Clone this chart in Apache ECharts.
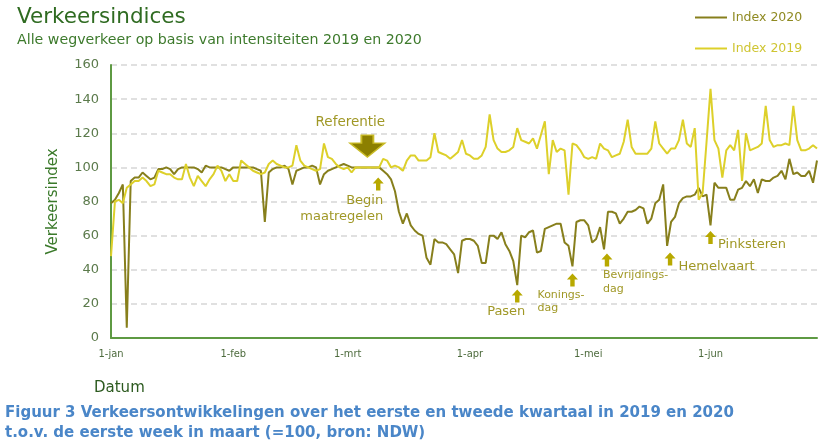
<!DOCTYPE html>
<html><head><meta charset="utf-8">
<script src="https://cdn.jsdelivr.net/npm/echarts@6/dist/echarts.min.js"></script>
<style>html,body{margin:0;padding:0;background:#fff}#c{width:830px;height:447px}</style>
</head><body><div id="c"></div>
<script>
// Daily index values, day 0 = 1 januari
const index2020 = [
 79, 81, 85, 90, 6, 92, 94, 94, 97, 95,
 93, 94, 99, 99, 100, 99, 96, 99, 100, 100,
 100, 100, 99, 97, 101, 100, 100, 100, 100, 99,
 98, 100, 100, 100, 100, 100, 100, 99, 98, 68,
 97, 99, 100, 100, 101, 99, 90, 98, 99, 100,
 100, 101, 100, 90, 96, 98, 99, 100, 101, 102,
 101, 100, 100, 100, 100, 100, 100, 100, 100, 98,
 96, 93, 86, 74, 67, 73, 66, 63, 61, 60,
 47, 43, 58, 56, 56, 55, 52, 49, 38, 57,
 58, 58, 57, 54, 44, 44, 60, 60, 58, 62,
 55, 51, 45, 31, 60, 59, 62, 63, 50, 51,
 64, 65, 66, 67, 67, 56, 54, 42, 68, 69,
 69, 66, 56, 58, 65, 52, 74, 74, 73, 67,
 70, 74, 74, 75, 77, 76, 67, 70, 79, 81,
 90, 54, 68, 71, 79, 82, 83, 83, 84, 88,
 83, 84, 66, 91, 88, 88, 88, 81, 81, 87,
 88, 92, 89, 93, 85, 93, 92, 92, 94, 95,
 98, 93, 105, 96, 97, 95, 95, 98, 91, 104
];
const index2019 = [
 48, 80, 81, 79, 88, 90, 92, 92, 94, 92,
 89, 90, 98, 97, 96, 96, 94, 93, 93, 102,
 94, 89, 95, 92, 89, 93, 96, 101, 98, 92,
 96, 92, 92, 104, 102, 100, 98, 97, 96, 97,
 102, 104, 102, 101, 100, 100, 101, 113, 104, 101,
 100, 99, 98, 99, 114, 106, 105, 102, 100, 99,
 100, 97, 100, 100, 100, 100, 100, 100, 100, 105,
 104, 100, 101, 100, 98, 104, 107, 107, 104, 104,
 104, 106, 120, 109, 108, 107, 105, 107, 109, 116,
 108, 107, 105, 105, 107, 112, 131, 116, 111, 109,
 109, 110, 112, 123, 116, 115, 114, 117, 111, 119,
 127, 96, 116, 109, 111, 110, 84, 114, 113, 110,
 106, 105, 106, 105, 114, 111, 110, 106, 107, 108,
 115, 128, 112, 108, 108, 108, 108, 111, 127, 114,
 111, 108, 111, 111, 116, 128, 114, 112, 123, 81,
 85, 115, 146, 116, 111, 94, 110, 113, 110, 122,
 92, 120, 110, 111, 112, 114, 136, 116, 112, 113,
 113, 114, 113, 136, 116, 110, 110, 111, 113, 111
];
const monthTickIdx = [0, 31, 60, 91, 121, 152];
const monthTickLabels = ['1-jan', '1-feb', '1-mrt', '1-apr', '1-mei', '1-jun'];
const seriesNames = ['Index 2020', 'Index 2019'];
const yMin = 0, yMax = 160, yStep = 20;

// Annotations: label text, day index, value (anchor of the arrow)
const annotationLabels = ['Referentie', 'Begin\nmaatregelen', 'Pasen', 'Konings-\ndag', 'Bevrijdings-\ndag', 'Hemelvaart', 'Pinksteren'];
const annotationDays = [65, 68, 103, 117, 126, 142, 152];
const annotationValues = [112.5, 90.3, 24.6, 34, 45.7, 46.3, 58.9];

const days = index2020.map((_, i) => String(i));

const C2020 = '#877f1c', C2019 = '#ddd02a';
const ANN_TXT = '#a09826', ARROW = '#b8a900';
const UP = 'path://M5.5,0 L11,6 L7.7,6 L7.7,13 L3.3,13 L3.3,6 L0,6 Z';
const DOWN_BIG = 'path://M11.5,0 L23.5,0 L23.5,8 L35,8 L17.5,22 L0,8 L11.5,8 Z';

const annStyles = [
  {symbol: DOWN_BIG, symbolSize: [35, 22], itemStyle: {color: '#8c7f00', borderColor: '#c9bb25', borderWidth: 1.5},
   label: {position: 'top', distance: 5, offset: [-17, 0], fontSize: 13.5}},
  {symbol: UP, symbolSize: [11, 13], symbolOffset: [-1, 0],
   label: {position: 'bottom', align: 'right', distance: 2, offset: [5, 0], fontSize: 13, lineHeight: 16}},
  {symbol: UP, symbolSize: [11, 13],
   label: {position: 'bottom', distance: 3, offset: [-11, 0], fontSize: 13}},
  {symbol: UP, symbolSize: [11, 13],
   label: {position: 'bottom', align: 'left', distance: 2, offset: [-35, 0], fontSize: 11, lineHeight: 13}},
  {symbol: UP, symbolSize: [11, 13], symbolOffset: [-1, 0],
   label: {position: 'bottom', align: 'left', distance: 2, offset: [-4, 0], fontSize: 11, lineHeight: 14}},
  {symbol: UP, symbolSize: [11, 13], symbolOffset: [-1, 0],
   label: {position: 'right', distance: 3, offset: [0, 8], fontSize: 13}},
  {symbol: UP, symbolSize: [11, 13],
   label: {position: 'right', distance: 2, offset: [0, 7], fontSize: 13}}
];

const markData = annotationLabels.map((t, i) => {
  const s = annStyles[i];
  return {
    name: t,
    coord: [annotationDays[i], annotationValues[i]],
    symbol: s.symbol,
    symbolSize: s.symbolSize,
    symbolOffset: s.symbolOffset || [0, 0],
    itemStyle: s.itemStyle || {color: ARROW},
    label: Object.assign({show: true, formatter: t, color: ANN_TXT, fontFamily: 'DejaVu Sans'}, s.label)
  };
});

const chart = echarts.init(document.getElementById('c'), null, {renderer: 'canvas'});
chart.setOption({
  animation: false,
  backgroundColor: '#ffffff',
  title: {
    text: 'Verkeersindices',
    subtext: 'Alle wegverkeer op basis van intensiteiten 2019 en 2020',
    left: 17, top: 6, padding: 0, itemGap: 5,
    textStyle: {fontFamily: 'DejaVu Sans', fontSize: 21.5, fontWeight: 'normal', color: '#2f6b21'},
    subtextStyle: {fontFamily: 'DejaVu Sans', fontSize: 14.2, color: '#3d7a2c'}
  },
  legend: {
    orient: 'vertical', left: 695, top: 11, padding: 0, itemWidth: 32, itemHeight: 2, itemGap: 18,
    icon: 'rect', selectedMode: false,
    textStyle: {fontFamily: 'DejaVu Sans', fontSize: 12.5},
    data: [
      {name: seriesNames[0], textStyle: {color: '#8f8a22'}},
      {name: seriesNames[1], textStyle: {color: '#cfc532'}}
    ]
  },
  grid: {left: 111, right: 13, top: 65, bottom: 109, containLabel: false},
  xAxis: {
    type: 'category', data: days, boundaryGap: false,
    axisLine: {lineStyle: {color: '#5e9a43', width: 2}},
    axisTick: {show: false},
    axisLabel: {
      interval: (idx) => monthTickIdx.indexOf(idx) >= 0,
      formatter: (v, idx) => { const k = monthTickIdx.indexOf(idx); return k >= 0 ? monthTickLabels[k] : ''; },
      fontFamily: 'DejaVu Sans Condensed, Liberation Sans', fontSize: 11, color: '#4d6b3d', margin: 11
    },
    splitLine: {show: false}
  },
  yAxis: {
    type: 'value', min: yMin, max: yMax, interval: yStep,
    name: 'Verkeersindex', nameLocation: 'middle', nameGap: 50,
    nameTextStyle: {fontFamily: 'DejaVu Sans', fontSize: 15, color: '#3b7a2b'},
    axisLine: {show: true, lineStyle: {color: '#5e9a43', width: 2}},
    axisTick: {show: false},
    axisLabel: {fontFamily: 'DejaVu Sans', fontSize: 13, color: '#5b7a4b', margin: 12},
    splitLine: {lineStyle: {color: '#d6d6d6', width: 1.5, type: [6, 4]}}
  },
  graphic: [
    {type: 'text', left: 94, top: 381, style: {text: 'Datum', font: '15px "DejaVu Sans"', fill: '#2c5a1f'}},
    {type: 'text', left: 5, top: 403, style: {
      text: 'Figuur 3 Verkeersontwikkelingen over het eerste en tweede kwartaal in 2019 en 2020\nt.o.v. de eerste week in maart (=100, bron: NDW)',
      font: 'bold 15px "DejaVu Sans"', fill: '#4a86c8', lineHeight: 20}}
  ],
  series: [
    {
      name: seriesNames[0], type: 'line', data: index2020, symbol: 'none', z: 2,
      lineStyle: {color: C2020, width: 2}, itemStyle: {color: C2020},
      markPoint: {data: markData, z: 5}
    },
    {
      name: seriesNames[1], type: 'line', data: index2019, symbol: 'none', z: 3,
      lineStyle: {color: C2019, width: 2}, itemStyle: {color: C2019}
    }
  ]
});
</script>
</body></html>
